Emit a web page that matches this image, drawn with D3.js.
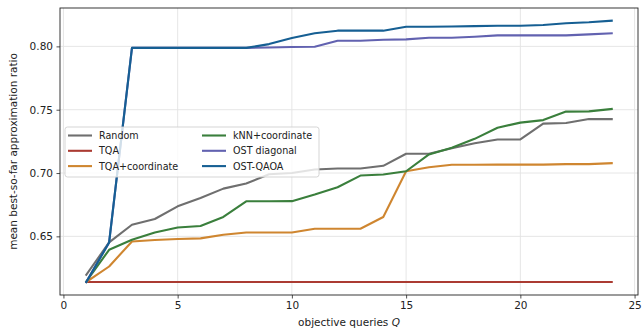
<!DOCTYPE html>
<html><head><meta charset="utf-8">
<script src="https://cdn.jsdelivr.net/npm/d3@7"></script>
<style>body{margin:0;background:#fff}svg{display:block;font-family:"DejaVu Sans",sans-serif}</style>
</head><body><svg id="c" width="644" height="331"></svg>
<script>
const queries = d3.range(1, 25);
const seriesNames = ["Random","TQA","TQA+coordinate","kNN+coordinate","OST diagonal","OST-QAOA"];
const seriesColors = ["#6f6f6f","#ab3b32","#cf8630","#3a7f3c","#6262b0","#165f93"];
const random = [0.6196,0.6452,0.6592,0.6637,0.6737,0.6803,0.6877,0.6917,0.699,0.7,0.7028,0.7036,0.7036,0.7057,0.7152,0.7152,0.7195,0.7235,0.7265,0.7265,0.739,0.7395,0.7426,0.7426];
const tqa = Array(24).fill(0.614);
const tqaCoord = [0.614,0.6262,0.646,0.6471,0.6479,0.6484,0.6513,0.6531,0.6531,0.6531,0.656,0.656,0.656,0.6653,0.7014,0.7046,0.7065,0.7065,0.7066,0.7066,0.7066,0.707,0.707,0.7078];
const knnCoord = [0.6143,0.6394,0.6473,0.6531,0.657,0.6582,0.6653,0.6777,0.6777,0.6778,0.683,0.6888,0.698,0.6988,0.7014,0.7147,0.72,0.727,0.7358,0.7398,0.7418,0.7485,0.7487,0.7506];
const ostDiag = [0.614,0.6452,0.7988,0.7988,0.7988,0.7988,0.7988,0.7988,0.7991,0.7995,0.7997,0.8044,0.8044,0.8052,0.8055,0.8068,0.8068,0.8076,0.8087,0.8087,0.8087,0.8087,0.8095,0.8103];
const ostQaoa = [0.614,0.6452,0.7988,0.7988,0.7988,0.7988,0.7988,0.7988,0.8018,0.8066,0.8103,0.8124,0.8124,0.8124,0.8155,0.8155,0.8157,0.816,0.8163,0.8163,0.8169,0.8182,0.819,0.8203];
const xTicks = [0,5,10,15,20,25];
const yTicks = [0.65,0.70,0.75,0.80];

const allSeries = [random, tqa, tqaCoord, knnCoord, ostDiag, ostQaoa];
const svg = d3.select("#c");
const L = 60, R = 638, T = 8, B = 295;
const x = d3.scaleLinear().domain([-0.15, 25.15]).range([L, R]);
const y = d3.scaleLinear().domain([0.6037, 0.8303]).range([B, T]);

// grid
const g = svg.append("g");
g.selectAll(".gx").data(xTicks).join("line")
  .attr("x1", d => x(d)).attr("x2", d => x(d)).attr("y1", T).attr("y2", B)
  .attr("stroke", "#e3e3e3").attr("stroke-width", 0.9);
g.selectAll(".gy").data(yTicks).join("line")
  .attr("y1", d => y(d)).attr("y2", d => y(d)).attr("x1", L).attr("x2", R)
  .attr("stroke", "#e3e3e3").attr("stroke-width", 0.9);

// axes
const xAxis = svg.append("g").attr("transform", `translate(0,${B})`)
  .call(d3.axisBottom(x).tickValues(xTicks).tickSize(3.5).tickPadding(3.5).tickFormat(d3.format("d")));
const yAxis = svg.append("g").attr("transform", `translate(${L},0)`)
  .call(d3.axisLeft(y).tickValues(yTicks).tickSize(3.5).tickPadding(3.5).tickFormat(d3.format(".2f")));
[xAxis, yAxis].forEach(a => {
  a.select(".domain").remove();
  a.selectAll("line").attr("stroke", "#222").attr("stroke-width", 0.8);
  a.selectAll("text").attr("fill", "#222").style("font-size", "10.5px").style("font-family", "DejaVu Sans");
});

// lines
const line = d3.line().x((d, i) => x(queries[i])).y(d => y(d));
allSeries.forEach((s, k) => {
  svg.append("path").datum(s).attr("d", line).attr("fill", "none")
    .attr("stroke", seriesColors[k]).attr("stroke-width", 2.1)
    .attr("stroke-linejoin", "round").attr("stroke-linecap", "square");
});

// frame
svg.append("rect").attr("x", L).attr("y", T).attr("width", R - L).attr("height", B - T)
  .attr("fill", "none").attr("stroke", "#222").attr("stroke-width", 0.9);

// legend
const lg = svg.append("g").attr("transform", "translate(65,127)");
lg.append("rect").attr("width", 254).attr("height", 50).attr("rx", 2.5)
  .attr("fill", "rgba(255,255,255,0.8)").attr("stroke", "#d0d0d0").attr("stroke-width", 0.9);
seriesNames.forEach((n, k) => {
  const col = Math.floor(k / 3), row = k % 3;
  const gx = 3 + col * 134, gy = 8.5 + row * 15.3;
  lg.append("line").attr("x1", gx).attr("x2", gx + 24).attr("y1", gy).attr("y2", gy)
    .attr("stroke", seriesColors[k]).attr("stroke-width", 2.1);
  lg.append("text").attr("x", gx + 31).attr("y", gy + 3.6).text(n)
    .attr("fill", "#222").style("font-size", "9.6px");
});

// axis labels
const xl = svg.append("text").attr("x", (L + R) / 2).attr("y", 326).attr("text-anchor", "middle")
  .attr("fill", "#222").style("font-size", "10.5px");
xl.append("tspan").text("objective queries ");
xl.append("tspan").text("Q").style("font-style", "italic");
svg.append("text").attr("transform", `translate(17,${(T + B) / 2}) rotate(-90)`)
  .attr("text-anchor", "middle").attr("fill", "#222").style("font-size", "10.5px")
  .text("mean best-so-far approximation ratio");
</script></body></html>
